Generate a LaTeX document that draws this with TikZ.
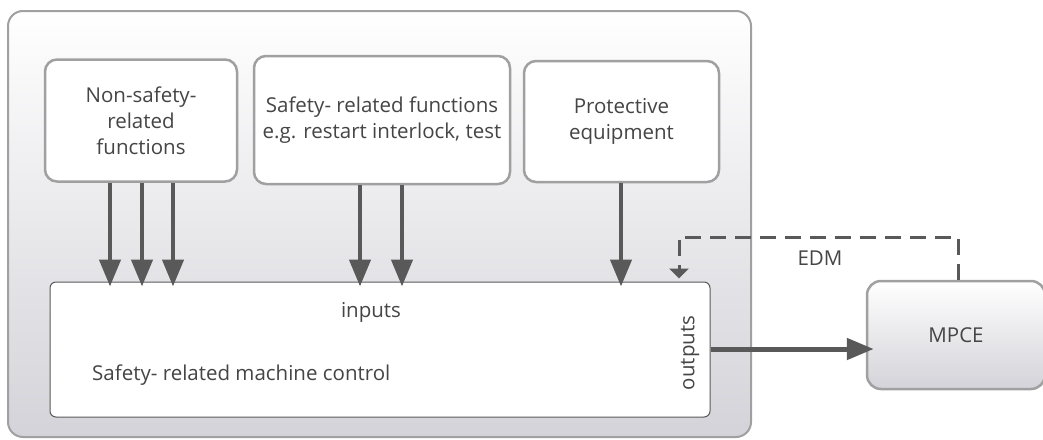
\documentclass[tikz,border=0pt]{standalone}
\usepackage{fontspec}
\setmainfont{Open Sans}
\usetikzlibrary{arrows.meta}
\definecolor{bordergray}{HTML}{A0A0A0}
\definecolor{arrowgray}{HTML}{595959}
\definecolor{textgray}{HTML}{454545}
\definecolor{shadegray}{HTML}{D3D3D9}
\begin{document}
\begin{tikzpicture}[x=1pt,y=-1pt,
  txt/.style={text=textgray,font=\fontsize{20.5}{26}\selectfont},
  funcbox/.style={draw=bordergray,line width=2.5pt,rounded corners=12pt,fill=white,
    align=center,txt,inner sep=0pt},
  outerbox/.style={draw=bordergray,line width=2pt,rounded corners=15pt,
    top color=white,bottom color=shadegray,inner sep=0pt},
  ctrlbox/.style={draw=arrowgray,line width=1pt,rounded corners=6pt,fill=white,inner sep=0pt},
  mpcebox/.style={draw=bordergray,line width=2.5pt,rounded corners=14pt,
    top color=white,bottom color=shadegray,txt,inner sep=0pt},
  bigarrow/.style={draw=arrowgray,line width=4.5pt,
    -{Triangle[length=27pt,width=21pt]},shorten >=-5pt},
  dasharrow/.style={draw=arrowgray,line width=3pt,dash pattern=on 16pt off 9pt,
    -{Triangle[length=10pt,width=19pt]}},
]
\useasboundingbox (0,0) rectangle (1043,439);
\node[outerbox,minimum width=743pt,minimum height=426pt] (outer) at (379.5,224) {};
\node[funcbox,minimum width=192pt,minimum height=122pt] (ns) at (141,120.5)
  {Non-safety-\\related\\functions};
\node[funcbox,minimum width=256pt,minimum height=128pt] (sf) at (382,120)
  {Safety- related functions\\e.g. restart interlock, test};
\node[funcbox,minimum width=195pt,minimum height=121pt] (pe) at (621.5,121.5)
  {Protective\\equipment};
\node[ctrlbox,minimum width=660pt,minimum height=135pt] (ctrl) at (380,349.5) {};
\node[mpcebox,minimum width=178pt,minimum height=108pt] (mpce) at (956,335) {MPCE};
\node[txt] (inputs) at (371,312) {inputs};
\node[txt,anchor=west,inner sep=0pt] (smc) at (92,375) {Safety- related machine control};
\node[txt,rotate=90] (outputs) at (690,353) {outputs};
\node[txt] (edm) at (820,258) {EDM};
\draw[bigarrow] (ns.south -| 110,0) -- (ctrl.north -| 110,0);
\draw[bigarrow] (ns.south -| 142,0) -- (ctrl.north -| 142,0);
\draw[bigarrow] (ns.south -| 173,0) -- (ctrl.north -| 173,0);
\draw[bigarrow] (sf.south -| 360,0) -- (ctrl.north -| 360,0);
\draw[bigarrow] (sf.south -| 402,0) -- (ctrl.north -| 402,0);
\draw[bigarrow] (pe.south -| 621,0) -- (ctrl.north -| 621,0);
\draw[bigarrow,line width=5pt,shorten >=-8pt] (ctrl.east |- 0,349) -- (mpce.west |- 0,349);
\coordinate (e1) at (958,237);
\coordinate (e2) at (679,237);
\draw[dasharrow,shorten >=3pt] (mpce.north -| e1) -- (e1) -- (e2) -- (e2 |- ctrl.north);
\end{tikzpicture}
\end{document}
